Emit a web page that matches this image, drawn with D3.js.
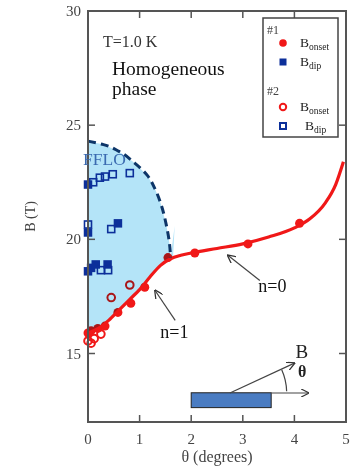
<!DOCTYPE html>
<html>
<head>
<meta charset="utf-8">
<script src="https://cdn.jsdelivr.net/npm/d3@7"></script>
<style>
  body { margin: 0; background: #fff; }
  svg text { font-family: "Liberation Serif", "DejaVu Serif", serif; }
</style>
</head>
<body>
<svg id="chart" width="356" height="474"></svg>
<script>
// axis ticks
const xTicks = [0, 1, 2, 3, 4, 5]
const yTicks = [15, 20, 25, 30]

// red fitted line (n=1 then n=0 branch)
const curveTheta = [0, 0.2, 0.4, 0.6, 0.8, 1.0, 1.2, 1.4, 1.6, 1.8, 2.0, 2.5, 3.0, 3.5, 4.0, 4.3, 4.6, 4.8, 4.95]
const curveB = [15.9, 16.1, 16.45, 16.9, 17.35, 17.8, 18.35, 18.85, 19.15, 19.3, 19.4, 19.6, 19.8, 20.1, 20.5, 20.9, 21.6, 22.4, 23.4]

// dashed FFLO boundary
const dashTheta = [0, 0.3, 0.6, 0.9, 1.15, 1.3, 1.42, 1.52, 1.58, 1.6]
const dashB = [24.3, 24.15, 23.85, 23.35, 22.8, 22.2, 21.5, 20.6, 19.8, 19.2]

// sample #1
const onset1 = [[0, 15.9], [0.06, 16.0], [0.19, 16.1], [0.33, 16.2], [0.58, 16.8], [0.83, 17.2], [1.1, 17.9], [1.55, 19.2], [2.07, 19.4], [3.1, 19.8], [4.1, 20.7]]
const dip1 = [[0, 22.4], [0, 20.3], [0.58, 20.7], [0, 18.6], [0.06, 18.75], [0.15, 18.9], [0.38, 18.9]]
// sample #2
const onset2 = [[0, 15.55], [0.06, 15.45], [0.12, 15.65], [0.25, 15.85], [0.45, 17.45], [0.81, 18.0]]
const dip2 = [[0.1, 22.5], [0.23, 22.7], [0.33, 22.75], [0.48, 22.85], [0.81, 22.9], [0, 20.65], [0.45, 20.45], [0.25, 18.65], [0.39, 18.65]]

const width = 356
const height = 474
const margin = { top: 11, right: 10, bottom: 52, left: 88 }

const svg = d3.select("#chart")
const x = d3.scaleLinear().domain([0, 5]).range([margin.left, width - margin.right])
const y = d3.scaleLinear().domain([12, 30]).range([height - margin.bottom, margin.top])

const red = "#f01818"
const navy = "#0c2f9a"

// shaded FFLO region: dashed boundary on top, red curve below
const upper = dashTheta.map((t, i) => [t, dashB[i]])
const lower = curveTheta
  .map((t, i) => [t, curveB[i]])
  .filter((d) => d[0] <= 1.6)
  .reverse()
const region = upper.concat([[1.68, 20.6], [1.65, 19.3]]).concat(lower)

// red dots under the shading so they darken inside it
svg
  .append("g")
  .selectAll("circle")
  .data(onset1)
  .join("circle")
  .attr("cx", (d) => x(d[0]))
  .attr("cy", (d) => y(d[1]))
  .attr("r", 4.5)
  .attr("fill", red)

svg
  .append("g")
  .selectAll("circle")
  .data(onset2)
  .join("circle")
  .attr("cx", (d) => x(d[0]))
  .attr("cy", (d) => y(d[1]))
  .attr("r", 3.8)
  .attr("fill", "none")
  .attr("stroke", red)
  .attr("stroke-width", 2)

svg
  .append("path")
  .datum(region)
  .attr("d", d3.line().x((d) => x(d[0])).y((d) => y(d[1])).curve(d3.curveLinearClosed))
  .attr("fill", "#b4e4f8")
  .style("mix-blend-mode", "multiply")

// red line
svg
  .append("path")
  .datum(curveTheta.map((t, i) => [t, curveB[i]]))
  .attr("d", d3.line().x((d) => x(d[0])).y((d) => y(d[1])).curve(d3.curveMonotoneX))
  .attr("fill", "none")
  .attr("stroke", red)
  .attr("stroke-width", 3.2)

// dashed boundary
svg
  .append("path")
  .datum(upper)
  .attr("d", d3.line().x((d) => x(d[0])).y((d) => y(d[1])).curve(d3.curveMonotoneY))
  .attr("fill", "none")
  .attr("stroke", "#0d3568")
  .attr("stroke-width", 3)
  .attr("stroke-dasharray", "8,5")

// blue squares
const sq = 8.5
svg
  .append("g")
  .selectAll("rect")
  .data(dip1)
  .join("rect")
  .attr("x", (d) => x(d[0]) - sq / 2)
  .attr("y", (d) => y(d[1]) - sq / 2)
  .attr("width", sq)
  .attr("height", sq)
  .attr("fill", navy)

svg
  .append("g")
  .selectAll("rect")
  .data(dip2)
  .join("rect")
  .attr("x", (d) => x(d[0]) - sq / 2 + 0.75)
  .attr("y", (d) => y(d[1]) - sq / 2 + 0.75)
  .attr("width", sq - 1.5)
  .attr("height", sq - 1.5)
  .attr("fill", "none")
  .attr("stroke", navy)
  .attr("stroke-width", 1.6)

// frame and inward ticks
const axisColor = "#555"
svg
  .append("rect")
  .attr("x", x(0))
  .attr("y", y(30))
  .attr("width", x(5) - x(0))
  .attr("height", y(12) - y(30))
  .attr("fill", "none")
  .attr("stroke", axisColor)
  .attr("stroke-width", 2)

const tk = 7
const inner = xTicks.filter((t) => t > 0 && t < 5)
svg
  .append("g")
  .selectAll("line")
  .data(inner)
  .join("line")
  .attr("x1", (d) => x(d))
  .attr("x2", (d) => x(d))
  .attr("y1", y(12))
  .attr("y2", y(12) - tk)
  .attr("stroke", axisColor)
  .attr("stroke-width", 1.5)
svg
  .append("g")
  .selectAll("line")
  .data(inner)
  .join("line")
  .attr("x1", (d) => x(d))
  .attr("x2", (d) => x(d))
  .attr("y1", y(30))
  .attr("y2", y(30) + tk)
  .attr("stroke", axisColor)
  .attr("stroke-width", 1.5)
const innerY = yTicks.filter((t) => t < 30)
svg
  .append("g")
  .selectAll("line")
  .data(innerY)
  .join("line")
  .attr("x1", x(0))
  .attr("x2", x(0) + tk)
  .attr("y1", (d) => y(d))
  .attr("y2", (d) => y(d))
  .attr("stroke", axisColor)
  .attr("stroke-width", 1.5)
svg
  .append("g")
  .selectAll("line")
  .data(innerY)
  .join("line")
  .attr("x1", x(5))
  .attr("x2", x(5) - tk)
  .attr("y1", (d) => y(d))
  .attr("y2", (d) => y(d))
  .attr("stroke", axisColor)
  .attr("stroke-width", 1.5)

// tick labels
svg
  .append("g")
  .selectAll("text")
  .data(xTicks)
  .join("text")
  .attr("x", (d) => x(d))
  .attr("y", y(12) + 22)
  .attr("text-anchor", "middle")
  .attr("font-size", 15)
  .attr("fill", "#444")
  .text((d) => d)
svg
  .append("g")
  .selectAll("text")
  .data(yTicks)
  .join("text")
  .attr("x", x(0) - 7)
  .attr("y", (d) => y(d) + 5)
  .attr("text-anchor", "end")
  .attr("font-size", 15)
  .attr("fill", "#444")
  .text((d) => d)

// axis titles
svg
  .append("text")
  .attr("x", (x(0) + x(5)) / 2)
  .attr("y", height - 12)
  .attr("text-anchor", "middle")
  .attr("font-size", 16)
  .attr("fill", "#444")
  .text("θ (degrees)")
svg
  .append("text")
  .attr("transform", `translate(35, ${y(21)}) rotate(-90)`)
  .attr("text-anchor", "middle")
  .attr("font-size", 14)
  .attr("fill", "#444")
  .text("B (T)")

// annotations
svg.append("text").attr("x", 103).attr("y", 47).attr("font-size", 16).attr("fill", "#333").text("T=1.0 K")
svg.append("text").attr("x", 112).attr("y", 75).attr("font-size", 19.5).attr("fill", "#111").text("Homogeneous")
svg.append("text").attr("x", 112).attr("y", 95).attr("font-size", 19.5).attr("fill", "#111").text("phase")
svg.append("text").attr("x", 83).attr("y", 165).attr("font-size", 17.5).attr("fill", "#3a6ab0").text("FFLO")

// n labels with arrows
svg
  .append("defs")
  .append("marker")
  .attr("id", "head")
  .attr("viewBox", "0 0 10 10")
  .attr("refX", 9)
  .attr("refY", 5)
  .attr("markerWidth", 7)
  .attr("markerHeight", 7)
  .attr("orient", "auto")
  .append("path")
  .attr("d", "M0,0 L10,5 L0,10")
  .attr("fill", "none")
  .attr("stroke", "#333")
  .attr("stroke-width", 1.5)

const pointer = (x1, y1, x2, y2) =>
  svg
    .append("line")
    .attr("x1", x(x1))
    .attr("y1", y(y1))
    .attr("x2", x(x2))
    .attr("y2", y(y2))
    .attr("stroke", "#444")
    .attr("stroke-width", 1.2)
    .attr("marker-end", "url(#head)")

pointer(1.69, 16.45, 1.3, 17.76)
svg.append("text").attr("x", x(1.4)).attr("y", y(15.67)).attr("font-size", 18).attr("fill", "#111").text("n=1")
pointer(3.33, 18.2, 2.71, 19.3)
svg.append("text").attr("x", x(3.3)).attr("y", y(17.7)).attr("font-size", 18).attr("fill", "#111").text("n=0")

// inset sketch: sample bar with field direction
svg
  .append("rect")
  .attr("x", x(2.0))
  .attr("y", y(13.28))
  .attr("width", x(3.55) - x(2.0))
  .attr("height", y(12.63) - y(13.28))
  .attr("fill", "#4a7cc2")
  .attr("stroke", "#222")
  .attr("stroke-width", 1)
pointer(3.55, 13.27, 4.27, 13.27)
pointer(2.75, 13.27, 4.0, 14.58)
const ox = x(2.75)
const oy = y(13.27)
const rr = x(3.85) - ox
svg
  .append("path")
  .attr("d", d3.arc()({ innerRadius: rr, outerRadius: rr, startAngle: Math.PI / 2 - 0.42, endAngle: Math.PI / 2 - 0.03 }))
  .attr("transform", `translate(${ox},${oy})`)
  .attr("fill", "none")
  .attr("stroke", "#444")
  .attr("stroke-width", 1.2)
svg.append("text").attr("x", x(4.02)).attr("y", y(14.8)).attr("font-size", 19).attr("fill", "#222").text("B")
svg.append("text").attr("x", x(4.07)).attr("y", y(13.95)).attr("font-size", 16).attr("font-weight", "bold").attr("fill", "#222").text("θ")

// legend
const lg = svg.append("g")
lg.append("rect").attr("x", 263).attr("y", 18).attr("width", 75).attr("height", 119).attr("fill", "#fff").attr("stroke", "#444").attr("stroke-width", 1.5)
lg.append("text").attr("x", 267).attr("y", 34).attr("font-size", 12).attr("fill", "#444").text("#1")
lg.append("text").attr("x", 267).attr("y", 95).attr("font-size", 12).attr("fill", "#444").text("#2")
lg.append("circle").attr("cx", 283).attr("cy", 43).attr("r", 3.8).attr("fill", red)
lg.append("rect").attr("x", 279.5).attr("y", 58.5).attr("width", 7).attr("height", 7).attr("fill", navy)
lg.append("circle").attr("cx", 283).attr("cy", 107).attr("r", 3.2).attr("fill", "none").attr("stroke", red).attr("stroke-width", 2)
lg.append("rect").attr("x", 280).attr("y", 123).attr("width", 6).attr("height", 6).attr("fill", "none").attr("stroke", navy).attr("stroke-width", 2)

const legendLabel = (lx, ly, sub) => {
  const t = lg.append("text").attr("x", lx).attr("y", ly).attr("font-size", 13.5).attr("fill", "#222")
  t.append("tspan").text("B")
  t.append("tspan").attr("dy", 3).attr("font-size", 9.5).text(sub)
}
legendLabel(300, 47, "onset")
legendLabel(300, 66, "dip")
legendLabel(300, 111, "onset")
legendLabel(305, 130, "dip")
</script>
</body>
</html>
